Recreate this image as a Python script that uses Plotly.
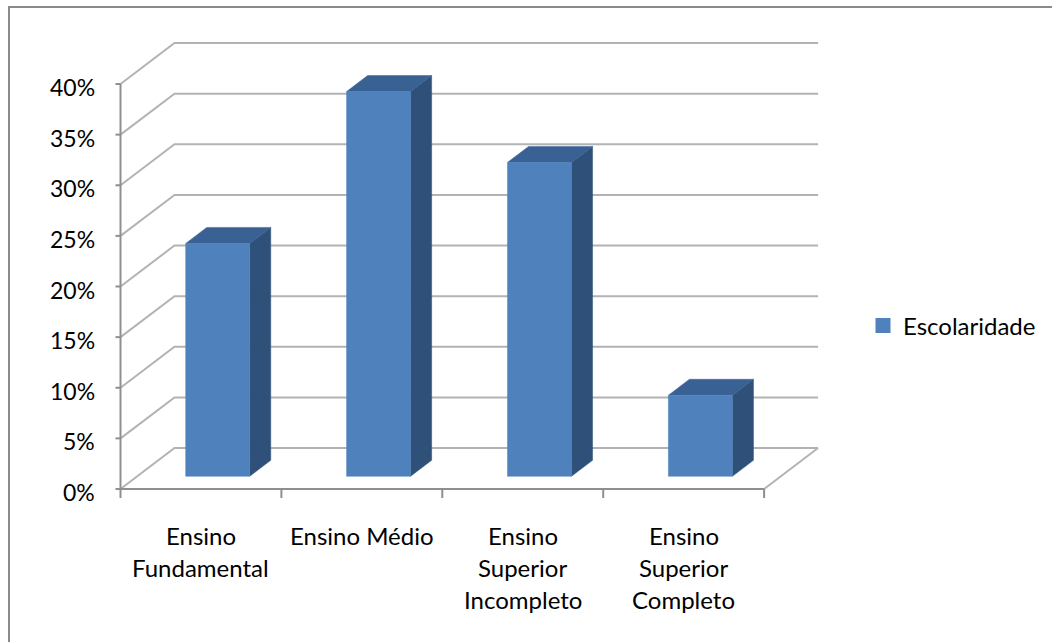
import plotly.graph_objects as go

# ---- data ----
categories = ["Ensino Fundamental", "Ensino Médio", "Ensino Superior Incompleto", "Ensino Superior Completo"]
label_lines = [["Ensino", "Fundamental"], ["Ensino Médio"], ["Ensino", "Superior", "Incompleto"], ["Ensino", "Superior", "Completo"]]
values = [23, 38, 31, 8]
series_name = "Escolaridade"
y_ticks = [0, 5, 10, 15, 20, 25, 30, 35, 40]
y_tick_labels = [f"{v}%" for v in y_ticks]

# ---- layout calibration (pixels) ----
W, H = 1052, 642
X0PX, XU = 120.5, 160.9      # px of x=0, px per category
Y0PX, YU = 489.0, 10.125     # px of y=0, px per percent
DEPTH_X = 54 / XU            # depth offset in x units
DEPTH_Y = 41 / YU            # depth offset in y units
T0, T1 = 0.31, 0.70          # bar depth span (fraction of depth)
HALF_W = 32 / XU             # half bar width

FONT = "Lato"
GRID = "#B3B3B3"
AXIS = "#8F8F8F"
FRONT = "#4F81BD"
TOP = "#3A6194"
SIDE = "#2F5179"

n = len(categories)
ymax = y_ticks[-1]
fig = go.Figure()

def line(xs, ys, color, width):
    fig.add_trace(go.Scatter(x=xs, y=ys, mode="lines", line=dict(color=color, width=width),
                             hoverinfo="skip", showlegend=False))

def poly(xs, ys, color):
    fig.add_trace(go.Scatter(x=xs + [xs[0]], y=ys + [ys[0]], mode="lines", fill="toself",
                             fillcolor=color, line=dict(color=color, width=0.5),
                             hoverinfo="skip", showlegend=False))

# back wall gridlines + left wall diagonals
for v in y_ticks:
    line([0, DEPTH_X, n + DEPTH_X], [v, v + DEPTH_Y, v + DEPTH_Y], GRID, 2)

# floor right edge
line([n, n + DEPTH_X], [0, DEPTH_Y], GRID, 2)

# bars
for i, v in enumerate(values):
    c = i + 0.5
    l0 = c - HALF_W + T0 * DEPTH_X
    r0 = c + HALF_W + T0 * DEPTH_X
    l1 = c - HALF_W + T1 * DEPTH_X
    r1 = c + HALF_W + T1 * DEPTH_X
    b0 = T0 * DEPTH_Y
    b1 = T1 * DEPTH_Y
    poly([r0, r1, r1, r0], [b0, b1, v + b1, v + b0], SIDE)
    poly([l0, r0, r1, l1], [v + b0, v + b0, v + b1, v + b1], TOP)
    poly([l0, r0, r0, l0], [b0, b0, v + b0, v + b0], FRONT)

# axes
line([0, 0], [0, ymax], AXIS, 2)
line([0, n], [0, 0], AXIS, 2)
tick_len_x = 5 / XU
tick_len_y = 9 / YU
for v in y_ticks:
    line([-tick_len_x, 0], [v, v], AXIS, 2)
for k in range(n + 1):
    line([k, k], [0, -tick_len_y], AXIS, 2)

# legend entry
fig.add_trace(go.Scatter(x=[None], y=[None], mode="markers", name=series_name,
                         marker=dict(symbol="square", size=15, color=FRONT)))

annotations = []
for v, t in zip(y_ticks, y_tick_labels):
    annotations.append(dict(x=-23.5 / XU, y=v, text=t, showarrow=False, xanchor="right",
                            yanchor="middle", yshift=-3, font=dict(family=FONT, size=23, color="#000000")))
for i, lines_ in enumerate(label_lines):
    for j, t in enumerate(lines_):
        annotations.append(dict(x=i + 0.5, y=0, text=t, showarrow=False, xanchor="center",
                                yanchor="middle", yshift=-(46 + 32 * j),
                                font=dict(family=FONT, size=24, color="#000000")))

fig.update_layout(
    width=W, height=H,
    margin=dict(l=0, r=0, t=0, b=0),
    paper_bgcolor="white", plot_bgcolor="white",
    xaxis=dict(visible=False, range=[-X0PX / XU, (W - X0PX) / XU], fixedrange=True),
    yaxis=dict(visible=False, range=[(Y0PX - H) / YU, Y0PX / YU], fixedrange=True),
    showlegend=True,
    legend=dict(x=863 / W, y=1 - 326 / H, xanchor="left", yanchor="middle",
                font=dict(family=FONT, size=24, color="#000000"), bgcolor="rgba(0,0,0,0)"),
    annotations=annotations,
    shapes=[dict(type="rect", xref="paper", yref="paper", x0=9 / W, x1=1.02, y0=-0.02, y1=1 - 7 / H,
                 line=dict(color="#8A8A8A", width=2), fillcolor="rgba(0,0,0,0)", layer="above")],
)

fig.write_html("out.html")
